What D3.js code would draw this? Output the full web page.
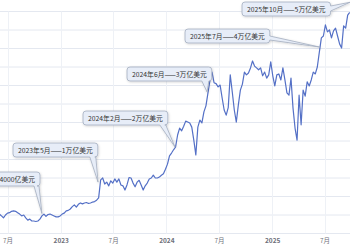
<!DOCTYPE html>
<html>
<head>
<meta charset="utf-8">
<script src="https://cdn.jsdelivr.net/npm/d3@7"></script>
<style>
  body { margin: 0; background: #fff; }
  svg { display: block; font-family: "Noto Sans CJK SC", "Noto Sans", sans-serif; }
</style>
</head>
<body>
<svg id="chart" width="350" height="250"></svg>
<script>
// weekly closes, in 万亿美元, first week ending 2022-06-03
const startWeek = '2022-06-03'
const capValues = [
  0.42, 0.38, 0.34, 0.40, 0.44, 0.45, 0.48, 0.49, 0.48, 0.45,
  0.42, 0.38, 0.40, 0.34, 0.29, 0.31, 0.27, 0.27, 0.26, 0.27,
  0.31, 0.38, 0.42, 0.37, 0.41, 0.42, 0.40, 0.38, 0.36, 0.36,
  0.38, 0.42, 0.44, 0.49, 0.50, 0.53, 0.58, 0.62, 0.57, 0.63,
  0.66, 0.64, 0.66, 0.67, 0.65, 0.66, 0.68, 0.69, 0.72, 0.77,
  1.16, 1.20, 1.07, 1.11, 1.03, 1.14, 1.09, 1.18, 1.11, 1.18,
  1.05, 1.03, 0.94, 1.05, 1.21, 1.20, 1.09, 1.01, 1.11, 1.15,
  1.05, 0.94, 1.03, 1.09, 1.18, 1.20, 1.26, 1.20, 1.20, 1.22,
  1.26, 1.29, 1.39, 1.50, 1.68, 1.74, 1.81, 1.87, 2.13, 2.28,
  2.22, 2.32, 2.43, 2.41, 2.39, 2.30, 2.02, 1.70, 2.30, 2.45,
  2.39, 2.63, 2.76, 3.04, 3.32, 3.49, 3.26, 3.24, 3.17, 3.21,
  2.93, 2.67, 2.56, 2.72, 3.43, 3.06, 2.67, 2.41, 2.78, 3.10,
  3.23, 3.49, 3.43, 3.47, 3.58, 3.73, 3.62, 3.58, 3.54, 3.58,
  3.41, 3.49, 3.36, 3.43, 3.71, 3.41, 3.19, 3.43, 3.45, 3.32,
  3.58, 3.32, 3.04, 2.99, 3.36, 2.71, 2.28, 2.02, 2.99, 2.35,
  3.10, 2.97, 3.28, 3.19, 3.32, 3.49, 3.45, 3.60, 3.92, 4.23,
  4.27, 4.51, 4.36, 4.40, 4.23, 4.38, 4.44, 4.27, 4.10, 4.01,
  4.49, 4.44, 4.72, 4.78
]

const xTickDates = ['2022-07-01', '2023-01-01', '2023-07-01', '2024-01-01', '2024-07-01', '2025-01-01', '2025-07-01']
const yGridValues = [0, 0.4, 0.8, 1.2, 1.6, 2.0, 2.4, 2.8, 3.2, 3.6, 4.0, 4.4, 4.8]

const noteLabels = ['2022年10月——4000亿美元', '2023年5月——1万亿美元', '2024年2月——2万亿美元',
  '2024年6月——3万亿美元', '2025年7月——4万亿美元', '2025年10月——5万亿美元']
const noteDates = ['2022-10-28', '2023-05-10', '2024-01-31', '2024-05-21', '2025-06-15', '2025-09-27']
const noteValues = [0.43, 1.11, 1.87, 3.06, 4.03, 5.0]

// where each callout box sits (px), and which edge its pointer leaves from
const noteBoxes = [
  { x: 40, y: 172, anchor: 'right', side: 'bottom', b: [-6, -1] },
  { x: 13, y: 143, anchor: 'left', side: 'bottom', b: [-8, -2] },
  { x: 83, y: 111, anchor: 'left', side: 'bottom', b: [-8, -2] },
  { x: 127, y: 67, anchor: 'left', side: 'bottom', b: [-10, -3] },
  { x: 185, y: 29, anchor: 'left', side: 'right', b: [7, 11] },
  { x: 242, y: 2, anchor: 'left', side: 'right', b: [4, 9] }
]

const width = 350
const height = 250
const parse = d3.timeParse('%Y-%m-%d')
const start = parse(startWeek)
const series = capValues.map((v, i) => ({ date: d3.timeDay.offset(start, 7 * i), value: v }))

const x = d3.scaleTime()
  .domain([parse('2022-06-05'), parse('2025-09-27')])
  .range([0, width])
const y = d3.scaleLinear()
  .domain([0, 4.8])
  .range([233.5, 11.5])

const svg = d3.select('#chart')

// grid
svg.append('g')
  .selectAll('line')
  .data(yGridValues)
  .enter()
  .append('line')
  .attr('x1', 0)
  .attr('x2', width)
  .attr('y1', d => y(d))
  .attr('y2', d => y(d))
  .attr('stroke', '#e4e8f0')
  .attr('stroke-width', 1)

svg.append('g')
  .selectAll('line')
  .data(xTickDates.map(parse))
  .enter()
  .append('line')
  .attr('x1', d => Math.round(x(d)) + 0.5)
  .attr('x2', d => Math.round(x(d)) + 0.5)
  .attr('y1', y(4.8))
  .attr('y2', y(0))
  .attr('stroke', '#eef1f6')
  .attr('stroke-width', 1)

// x axis labels
let xAxis = d3.axisBottom(x)
  .tickValues(xTickDates.map(parse))
  .tickSize(0)
  .tickPadding(5)
  .tickFormat(d => d.getMonth() === 0 ? d.getFullYear() : (d.getMonth() + 1) + '月')

let gx = svg.append('g')
  .attr('transform', `translate(0,${y(0)})`)
  .call(xAxis)
gx.select('.domain').remove()
gx.selectAll('text')
  .attr('font-family', '"Noto Sans CJK SC", sans-serif')
  .attr('font-size', 6.5)
  .attr('fill', '#6e7079')
  .attr('font-weight', d => d.getMonth() === 0 ? 'bold' : 'normal')

// line
let line = d3.line()
  .x(d => x(d.date))
  .y(d => y(d.value))

svg.append('path')
  .datum(series)
  .attr('fill', 'none')
  .attr('stroke', '#5470c6')
  .attr('stroke-width', 1.2)
  .attr('stroke-linejoin', 'round')
  .attr('d', line)

// callouts
let defs = svg.append('defs')
defs.append('filter')
  .attr('id', 'shadow')
  .attr('x', '-20%').attr('y', '-40%').attr('width', '140%').attr('height', '180%')
  .append('feDropShadow')
  .attr('dx', 0.6).attr('dy', 0.8)
  .attr('stdDeviation', 0.8)
  .attr('flood-color', '#000')
  .attr('flood-opacity', 0.18)

function calloutPath (x0, y0, x1, y1, r, side, b1, b2, tx, ty) {
  let p = d3.path()
  p.moveTo(x0 + r, y0)
  p.lineTo(x1 - r, y0)
  p.quadraticCurveTo(x1, y0, x1, y0 + r)
  if (side === 'right') {
    p.lineTo(x1, b1)
    p.lineTo(tx, ty)
    p.lineTo(x1, b2)
  }
  p.lineTo(x1, y1 - r)
  p.quadraticCurveTo(x1, y1, x1 - r, y1)
  if (side === 'bottom') {
    p.lineTo(b2, y1)
    p.lineTo(tx, ty)
    p.lineTo(b1, y1)
  }
  p.lineTo(x0 + r, y1)
  p.quadraticCurveTo(x0, y1, x0, y1 - r)
  p.lineTo(x0, y0 + r)
  p.quadraticCurveTo(x0, y0, x0 + r, y0)
  p.closePath()
  return p.toString()
}

let boxH = 14
let pad = 5

noteLabels.forEach((label, i) => {
  let box = noteBoxes[i]
  let g = svg.append('g')
  let shape = g.append('path')
  let text = g.append('text')
    .text(label)
    .attr('font-size', 6.8)
    .attr('fill', '#333')
    .attr('dominant-baseline', 'central')
  let w = text.node().getComputedTextLength() + pad * 2
  let x0 = box.anchor === 'right' ? box.x - w : box.x
  let x1 = x0 + w
  let y0 = box.y
  let y1 = y0 + boxH
  let tx = x(parse(noteDates[i]))
  let ty = y(noteValues[i])
  let b1, b2
  if (box.side === 'bottom') {
    b1 = x1 + box.b[0]
    b2 = x1 + box.b[1]
  } else {
    b1 = y0 + box.b[0]
    b2 = y0 + box.b[1]
  }
  shape
    .attr('d', calloutPath(x0, y0, x1, y1, 3, box.side, b1, b2, tx, ty))
    .attr('fill', '#e7edf8')
    .attr('stroke', '#a3adbf')
    .attr('stroke-width', 0.8)
    .attr('filter', 'url(#shadow)')
  text
    .attr('x', x0 + pad)
    .attr('y', y0 + boxH / 2)
})
</script>
</body>
</html>
